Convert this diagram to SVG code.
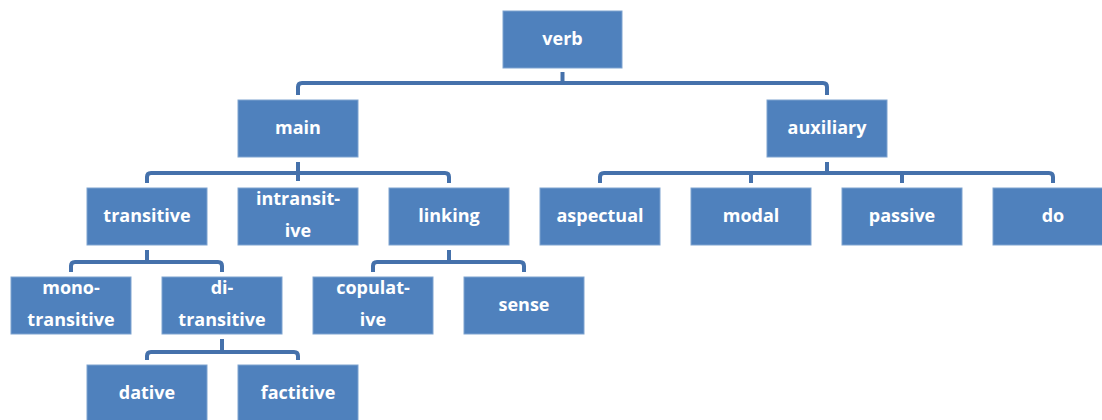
<svg xmlns="http://www.w3.org/2000/svg" width="1102" height="420" viewBox="0 0 1102 420">
<style>
.box{fill:#4f81bd;stroke:#7ea3d0;stroke-width:1}
.t{font-family:"Open Sans","Liberation Sans",sans-serif;font-weight:700;font-size:18px;fill:#ffffff;text-anchor:middle}
.c{fill:none;stroke:#4571ab;stroke-width:4;stroke-linejoin:round}
</style>
<rect width="1102" height="420" fill="#ffffff"/>
<g id="connectors">
<path class="c" d="M562.5 72 V83"/>
<path class="c" d="M298 95 V87 Q298 83 302 83 H823 Q827 83 827 87 V95"/>
<path class="c" d="M298 162 V181"/>
<path class="c" d="M147 183 V177 Q147 173 151 173 H445 Q449 173 449 177 V183"/>
<path class="c" d="M827 162 V173"/>
<path class="c" d="M600 183 V177 Q600 173 604 173 H1049 Q1053 173 1053 177 V183"/>
<path class="c" d="M751 173 V183 M902 173 V183"/>
<path class="c" d="M147 250 V262"/>
<path class="c" d="M71 272 V266 Q71 262 75 262 H218 Q222 262 222 266 V272"/>
<path class="c" d="M449 250 V262"/>
<path class="c" d="M373 272 V266 Q373 262 377 262 H520 Q524 262 524 266 V272"/>
<path class="c" d="M222 339 V352"/>
<path class="c" d="M147 360 V356 Q147 352 151 352 H294 Q298 352 298 356 V360"/>
</g>
<g id="verb"><rect class="box" x="503" y="11" width="119" height="57"/><text class="t" x="562.5" y="45">verb</text></g>
<g id="main"><rect class="box" x="238" y="100" width="120" height="57"/><text class="t" x="298" y="134">main</text></g>
<g id="auxiliary"><rect class="box" x="767" y="100" width="120" height="57"/><text class="t" x="827" y="134">auxiliary</text></g>
<g id="transitive"><rect class="box" x="87" y="188" width="120" height="57"/><text class="t" x="147" y="222">transitive</text></g>
<g id="intransitive"><rect class="box" x="238" y="188" width="120" height="57"/><text class="t" x="298" y="205">intransit-</text><text class="t" x="298" y="237">ive</text></g>
<g id="linking"><rect class="box" x="389" y="188" width="120" height="57"/><text class="t" x="449" y="222">linking</text></g>
<g id="aspectual"><rect class="box" x="540" y="188" width="120" height="57"/><text class="t" x="600" y="222">aspectual</text></g>
<g id="modal"><rect class="box" x="691" y="188" width="120" height="57"/><text class="t" x="751" y="222">modal</text></g>
<g id="passive"><rect class="box" x="842" y="188" width="120" height="57"/><text class="t" x="902" y="222">passive</text></g>
<g id="do"><rect class="box" x="993" y="188" width="120" height="57"/><text class="t" x="1053" y="222">do</text></g>
<g id="monotransitive"><rect class="box" x="11" y="277" width="120" height="57"/><text class="t" x="71" y="294">mono-</text><text class="t" x="71" y="326">transitive</text></g>
<g id="ditransitive"><rect class="box" x="162" y="277" width="120" height="57"/><text class="t" x="222" y="294">di-</text><text class="t" x="222" y="326">transitive</text></g>
<g id="copulative"><rect class="box" x="313" y="277" width="120" height="57"/><text class="t" x="373" y="294">copulat-</text><text class="t" x="373" y="326">ive</text></g>
<g id="sense"><rect class="box" x="464" y="277" width="120" height="57"/><text class="t" x="524" y="311">sense</text></g>
<g id="dative"><rect class="box" x="87" y="365" width="120" height="57"/><text class="t" x="147" y="399">dative</text></g>
<g id="factitive"><rect class="box" x="238" y="365" width="120" height="57"/><text class="t" x="298" y="399">factitive</text></g>
</svg>
